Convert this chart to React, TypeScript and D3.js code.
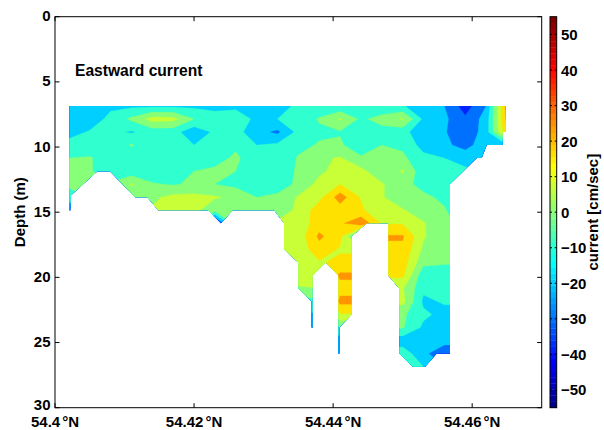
import React from 'react';
import * as d3 from 'd3';

// Grid of profile positions (latitude) and depth bins
const gridLat = [54.402, 54.405, 54.408, 54.411, 54.414, 54.417, 54.42, 54.423, 54.426, 54.429, 54.432,
  54.435, 54.438, 54.441, 54.444, 54.447, 54.45, 54.453, 54.456, 54.459, 54.462, 54.465];
const gridDepth = [6.85, 7.85, 8.85, 9.85, 10.85, 11.85, 12.85, 13.85, 14.85, 15.85, 16.85,
  17.85, 18.85, 19.85, 20.85, 21.85, 22.85, 23.85, 24.85, 25.85, 26.85];

// Eastward current (cm/s), one row per depth bin, one column per latitude
const eastward = [
  [-17, -19, -12, -12, -12, -12, -12, -12, -12, -12, -12, -9, -8, -8, -8, -8, -9, -17, -20, -35, -20, 35],
  [-17, -16, -7, 2, 14, 13, 0, -7, -5, -12, -10, -7, 1, 11, -2, 4, 11, -12, -18, -28, -16, 33],
  [-14, -9, -8, -11, -6, -6, -17, -8, -6, -17, -22, -7, -2, -1, -6, -4, -6, -18, -19, -28, -15, 28],
  [-6, -7, -7, 1, -8, -3, -10, -8, -2, -10, -8, -3, 1, 2, -9, 0, -2, -14, -17, -25, -12, -10],
  [0, 1, -6, -7, -7, -6, -2, -4, 2, -7, -8, 1, 8, 11, 2, 4, 2, -7, -10, -12, -12, -12],
  [2, 1, -6, -6, -7, -6, 0, 2, 0, -7, -8, 2, 8, 14, 13, 3, 11, -7, -8, -9, -10, -10],
  [2, 3, 1, 11, 1, -1, 2, 0, -3, -6, -7, 3, 13, 20, 17, 11, 3, -3, -7, -9, -9, -9],
  [-5, 1, 2, 2, 8, 13, 13, 11, 8, 0, 3, 11, 17, 35, 19, 11, 3, 2, -2, -8, -8, -8],
  [-20, 2, 2, 2, 11, 14, 13, 3, 4, 2, 2, 13, 25, 25, 22, 11, 11, 4, 1, -8, -8, -8],
  [-20, 2, 2, 2, 11, 14, 11, -40, 8, 3, 13, 14, 25, 28, 38, 19, 19, 11, 2, -3, -8, -8],
  [-20, 2, 2, 2, 11, 14, 11, 2, 8, 11, 13, 14, 32, 23, -15, 31, 31, 11, 3, 3, -8, -8],
  [-20, 2, 2, 2, 11, 14, 11, 2, 8, 11, 13, 14, 26, 19, 19, 28, 28, 8, 2, 2, -8, -8],
  [-20, 2, 2, 2, 11, 14, 11, 2, 8, 11, 13, 13, 19, 22, 22, 25, 25, 3, 1, 1, -8, -8],
  [-20, 2, 2, 2, 11, 14, 11, 2, 8, 11, 13, 19, 16, 32, 32, 22, 22, -7, -5, -5, -8, -8],
  [-20, 2, 2, 2, 11, 14, 11, 2, 8, 11, 4, 8, 10, 26, 26, 11, 11, -8, -7, -7, -8, -8],
  [-20, 2, 2, 2, 11, 14, 11, 2, 8, 11, 0, -4, -3, 33, 33, 13, 13, -12, -9, -9, -8, -8],
  [-20, 2, 2, 2, 11, 14, 11, 2, 8, 11, 0, -10, -12, 19, 19, 2, 2, -8, -13, -13, -8, -8],
  [-20, 2, 2, 2, 11, 14, 11, 2, 8, 11, 0, -10, -15, 0, 0, 1, 1, -12, -12, -12, -8, -8],
  [-20, 2, 2, 2, 11, 14, 11, 2, 8, 11, 0, -10, -15, -15, -10, -16, -16, -17, -17, -17, -8, -8],
  [-20, 2, 2, 2, 11, 14, 11, 2, 8, 11, 0, -10, -15, -15, -10, -4, -4, -18, -26, -26, -8, -8],
  [-20, 2, 2, 2, 11, 14, 11, 2, 8, 11, 0, -10, -15, -15, -10, -5, -5, -10, -20, -20, -8, -8],
];

// Outline of valid data (surface bin to deepest bin of each profile)
const maskLat = [54.40206, 54.46486, 54.46486, 54.46439, 54.46439, 54.46209, 54.46137, 54.46065, 54.45681,
  54.45681, 54.4549, 54.45322, 54.45145, 54.44952, 54.44952, 54.44794, 54.44794, 54.44483, 54.44267,
  54.44267, 54.44089, 54.44089, 54.44075, 54.44075, 54.43893, 54.43706, 54.43706, 54.43692, 54.43692,
  54.43499, 54.43499, 54.43294, 54.43294, 54.43154, 54.42556, 54.42387, 54.42201, 54.41486, 54.41327,
  54.41151, 54.40791, 54.40608, 54.4023, 54.4022, 54.40206];
const maskDepth = [6.85, 6.85, 8.85, 8.85, 9.85, 9.85, 10.85, 10.85, 12.85,
  25.85, 25.85, 26.85, 26.85, 25.85, 20.85, 19.85, 15.85, 15.85, 16.85,
  22.85, 23.85, 25.85, 25.85, 19.85, 18.85, 19.85, 23.85, 23.85, 21.85,
  20.85, 18.85, 17.85, 15.85, 14.85, 14.85, 15.85, 14.85, 14.85, 13.85,
  13.85, 11.85, 11.85, 13.7, 14.85, 14.85];

// Contour levels (lower bound of each filled band) and the band colours
const levels = [-60, -50, -40, -30, -20, -10, 0, 10, 20, 30, 40, 50];
const bandColors = ['#000096', '#0000dc', '#0020ff', '#0070ff', '#00cfff', '#30ffcf',
  '#87ff78', '#c8ff37', '#ffe100', '#ff9600', '#ff3c00', '#d20000'];

const xTicks = [54.4, 54.42, 54.44, 54.46];
const xTickLabels = ['54.4', '54.42', '54.44', '54.46'];
const yTicks = [0, 5, 10, 15, 20, 25, 30];
const cTicks = [-50, -40, -30, -20, -10, 0, 10, 20, 30, 40, 50];
const cRange = [-55, 55];

// MATLAB jet(64) for the colour bar
const jetU: number[] = [];
for (let i = 1; i <= 16; i++) jetU.push(i / 16);
for (let i = 0; i < 15; i++) jetU.push(1);
for (let i = 16; i >= 1; i--) jetU.push(i / 16);
function jet64(k: number) {
  const at = (idx: number) => (idx >= 1 && idx <= 47 ? jetU[idx - 1] : 0);
  return d3.rgb(at(k - 24) * 255, at(k - 8) * 255, at(k + 8) * 255).toString();
}

const FONT = '"Liberation Sans", Arial, Helvetica, sans-serif';

export default function App() {
  const W = 604, H = 430;
  const L = 55, R = 541.7, T = 16.7, B = 407.7;
  const cbL = 550, cbR = 556.7;
  const x = d3.scaleLinear().domain([54.4, 54.47]).range([L, R]);
  const y = d3.scaleLinear().domain([0, 30]).range([T, B]);
  const c = d3.scaleLinear().domain(cRange).range([B, T]);

  const nx = gridLat.length, ny = gridDepth.length;
  const gx = d3.scaleLinear().domain([0.5, nx - 0.5]).range([gridLat[0], gridLat[nx - 1]]);
  const gy = d3.scaleLinear().domain([0.5, ny - 0.5]).range([gridDepth[0], gridDepth[ny - 1]]);
  const values = eastward.flat();
  const contours = d3.contours().size([nx, ny]).thresholds(levels)(values);
  const proj = d3.geoTransform({
    point(px: number, py: number) {
      (this as any).stream.point(x(gx(px)), y(gy(py)));
    },
  });
  const path = d3.geoPath(proj);
  const colorOf = (v: number) => bandColors[Math.max(0, levels.indexOf(v))];

  const maskPts = maskLat.map((la, i) => [x(la), y(maskDepth[i])] as [number, number]);
  const maskPath = d3.line()(maskPts) + 'Z';

  const cmapSteps = d3.range(1, 65);
  const step = (cRange[1] - cRange[0]) / 64;
  const tickLen = 4.5;

  return (
    <svg width={W} height={H} style={{ position: 'absolute', left: 0, top: 0, background: '#fff' }}
      fontFamily={FONT} fontWeight="bold">
      <defs>
        <clipPath id="mask">
          <path d={maskPath} />
        </clipPath>
      </defs>
      <rect x={0} y={0} width={W} height={H} fill="#fff" />
      <g clipPath="url(#mask)">
        {contours.map((ct, i) => (
          <path key={i} d={path(ct as any) || ''} fill={colorOf(ct.value)} stroke={colorOf(ct.value)} strokeWidth={0.3} />
        ))}
      </g>
      {/* axes box */}
      <rect x={L} y={T} width={R - L} height={B - T} fill="none" stroke="#000" strokeWidth={1} />
      {xTicks.map((t, i) => (
        <g key={'x' + i}>
          <line x1={x(t)} x2={x(t)} y1={B} y2={B - tickLen} stroke="#000" />
          <line x1={x(t)} x2={x(t)} y1={T} y2={T + tickLen} stroke="#000" />
          <text x={x(t)} y={427} textAnchor="middle" fontSize={15}>
            {xTickLabels[i]}
            <tspan dx={2}>°</tspan>
            <tspan>N</tspan>
          </text>
        </g>
      ))}
      {yTicks.map((t, i) => (
        <g key={'y' + i}>
          <line x1={L} x2={L + tickLen} y1={y(t)} y2={y(t)} stroke="#000" />
          <line x1={R} x2={R - tickLen} y1={y(t)} y2={y(t)} stroke="#000" />
          <text x={50.5} y={y(t) + (t === 30 ? 2.5 : 4.5)} textAnchor="end" fontSize={15}>{t}</text>
        </g>
      ))}
      <text x={75} y={76} fontSize={15.6}>Eastward current</text>
      <text transform={`translate(25,${(T + B) / 2}) rotate(-90)`} textAnchor="middle" fontSize={15}>Depth (m)</text>

      {/* colorbar */}
      {cmapSteps.map((k) => (
        <rect key={'cb' + k} x={cbL} width={cbR - cbL}
          y={c(cRange[0] + k * step)} height={c(cRange[0] + (k - 1) * step) - c(cRange[0] + k * step) + 0.3}
          fill={jet64(k)} />
      ))}
      <rect x={cbL} y={T} width={cbR - cbL} height={B - T} fill="none" stroke="#000" strokeWidth={1} />
      {cTicks.map((t, i) => (
        <g key={'c' + i}>
          <line x1={cbR} x2={cbR - 2} y1={c(t)} y2={c(t)} stroke="#000" />
          <line x1={cbL} x2={cbL + 2} y1={c(t)} y2={c(t)} stroke="#000" />
          <text x={561} y={c(t) + 5.5} fontSize={15}>{t < 0 ? '\u2212' + Math.abs(t) : String(t)}</text>
        </g>
      ))}
      <text transform={`translate(598,${(T + B) / 2}) rotate(-90)`} textAnchor="middle" fontSize={15}>current [cm/sec]</text>
    </svg>
  );
}
